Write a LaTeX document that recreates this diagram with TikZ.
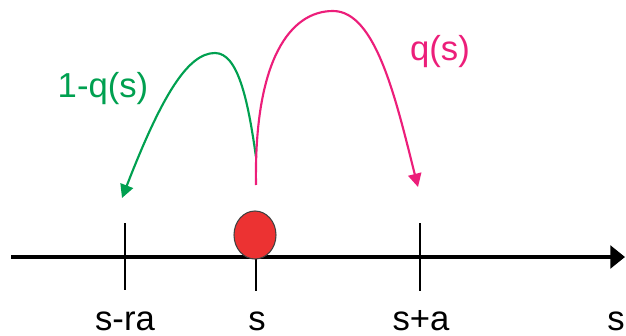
\documentclass[tikz,border=0pt]{standalone}
\usepackage{fontspec}
\setmainfont{Liberation Sans}
\usepackage{tikz}
\usetikzlibrary{arrows.meta,shapes.geometric}

\definecolor{leftgreen}{RGB}{0,160,80}
\definecolor{rightpink}{RGB}{236,30,122}
\definecolor{ballred}{RGB}{236,50,50}

\begin{document}
\begin{tikzpicture}[
	x=0.75pt, y=-0.75pt,
	every node/.style={font=\fontsize{26}{31}\selectfont},
	line cap=butt,
	line join=round,
	tick/.style={line width=1pt},
	ticklabel/.style={anchor=base, inner sep=0pt},
	jump/.style={line width=1.6pt, -{Triangle[length=10pt, width=10pt]}}
	]
	\useasboundingbox (0,0) rectangle (626,336);
	
	% Axis
	\coordinate (axisL) at (11,257);
	\coordinate (axisR) at (625,257);
	\draw[line width=2.6pt, -{Triangle[length=11pt, width=17pt]}] (axisL) -- (axisR);
	
	% Ticks
	\draw[tick] (125,223) coordinate (tL) -- (125,290) coordinate (bL);
	\draw[tick] (256,257) coordinate (tS) -- (256,291) coordinate (bS);
	\draw[tick] (420,223) coordinate (tR) -- (420,291) coordinate (bR);
	
	% Particle
	\node[ellipse, draw=black!75, line width=0.8pt, fill=ballred, inner sep=0pt,
		minimum width=31.5pt, minimum height=36pt] (ball) at (255,235) {};
	
	% Tick labels
	\node[ticklabel] (lblL) at (125,330) {s-ra};
	\node[ticklabel] (lblS) at (257,330) {s};
	\node[ticklabel] (lblR) at (421,330) {s+a};
	\node[ticklabel] (lblAxis) at (616,330) {s};
	
	% Jumps
	\coordinate (greenStart) at (256,157);
	\coordinate (greenEnd) at (122,198);
	\coordinate (pinkStart) at (256,185);
	\coordinate (pinkEnd) at (418,187);
	\draw[jump, leftgreen] (greenStart) .. controls (248,100) and (238,53) .. (215,53)
		.. controls (188,53) and (162,95) .. (greenEnd);
	\draw[jump, rightpink] (pinkStart) .. controls (254,60) and (290,11) .. (333,11)
		.. controls (376,11) and (396,100) .. (pinkEnd);
	
	% Probabilities
	\node[anchor=base, text=leftgreen] (probL) at (103,97) {1-q(s)};
	\node[anchor=base, text=rightpink] (probR) at (440,60) {q(s)};
	
\end{tikzpicture}
\end{document}
